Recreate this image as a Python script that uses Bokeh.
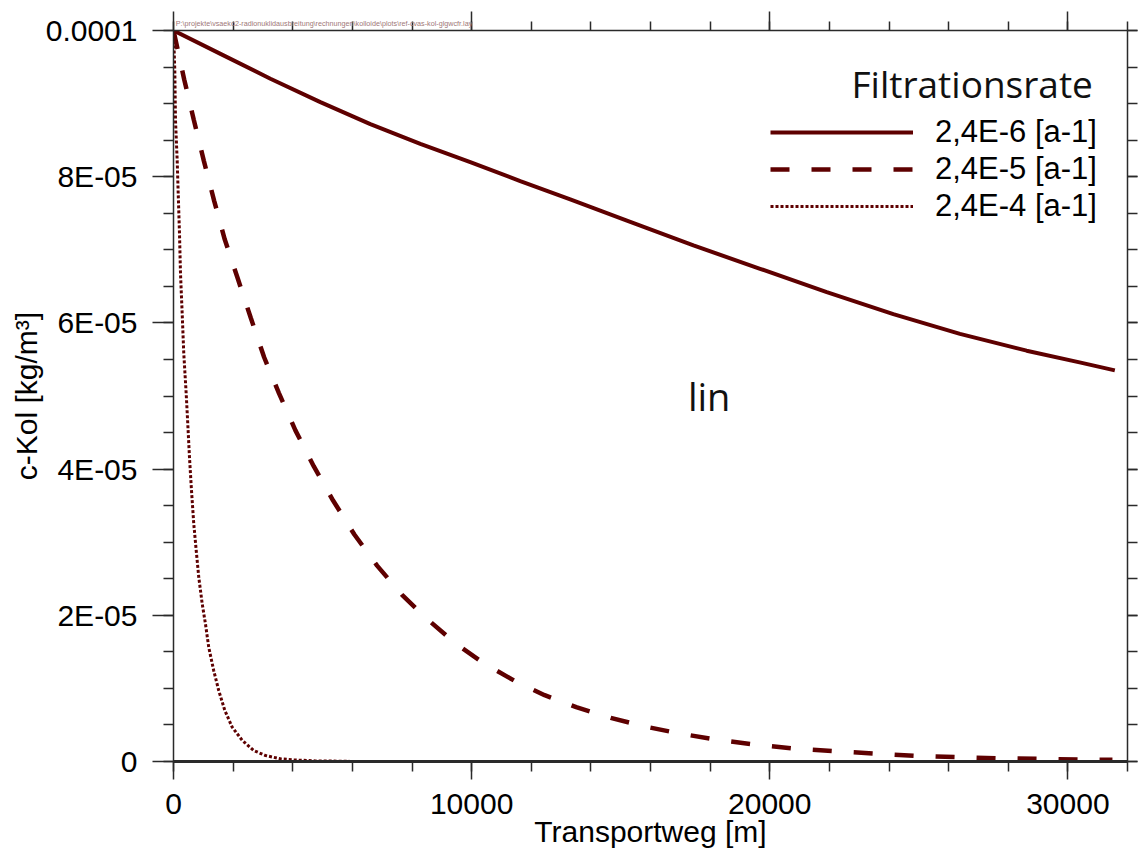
from bokeh.plotting import figure
from bokeh.models import (Range1d, FixedTicker, LinearAxis, Legend, LegendItem,
                          Label)
from bokeh.embed import file_html
from bokeh.resources import INLINE

# Filtrationsrate 2,4E-6 [a-1]  (solid)
x_slow = [0, 1575, 3251, 4927, 6603, 8280, 9955, 11631, 13308, 15208, 17440,
          19676, 21912, 24145, 26380, 28616, 30393, 31575]
c_slow = [100.0, 96.8, 93.4, 90.2, 87.2, 84.5, 82.0, 79.4, 76.9, 74.0, 70.6,
          67.4, 64.2, 61.2, 58.5, 56.2, 54.6, 53.5]

# Filtrationsrate 2,4E-5 [a-1]  (dashed)
x_mid = [0, 359, 680, 1016, 1364, 1720, 2145, 2591, 3040, 3536, 4089, 4703,
         5353, 6067, 6828, 7666, 8447, 9506, 10425, 11454, 12449, 13508,
         14665, 15805, 17022, 18255, 19582, 20849, 22163, 23521, 24869,
         26277, 27620, 28995, 30389, 31495]
c_mid = [100.0, 93.3, 87.8, 82.2, 76.7, 71.4, 66.2, 60.7, 55.3, 50.4, 45.3,
         40.4, 35.7, 31.05, 26.8, 22.8, 19.7, 16.0, 13.4, 11.0, 9.07, 7.43,
         5.97, 4.79, 3.79, 2.97, 2.28, 1.74, 1.41, 1.09, 0.78, 0.59, 0.45,
         0.37, 0.27, 0.23]

# Filtrationsrate 2,4E-4 [a-1]  (dotted)
x_fast = [0, 44, 67, 124, 158, 201, 235, 292, 345, 426, 479, 536, 603, 680,
          761, 848, 962, 1073, 1183, 1351, 1518, 1720, 1968, 2303, 2692, 3084,
          3587, 3979, 4760, 5900]
c_fast = [100.0, 94.5, 87.7, 82.2, 77.7, 72.2, 66.7, 61.2, 55.8, 50.3, 46.2,
          41.6, 37.1, 32.5, 28.9, 25.2, 21.6, 18.8, 15.6, 12.4, 9.7, 7.0, 4.7,
          2.9, 1.5, 0.82, 0.37, 0.23, 0.08, 0.03]

series_labels = ["2,4E-6 [a-1]", "2,4E-5 [a-1]", "2,4E-4 [a-1]"]

x_ticks = [0, 10000, 20000, 30000]
y_ticks = [0, 2e-5, 4e-5, 6e-5, 8e-5, 1e-4]
y_tick_labels = ["0", "2E-05", "4E-05", "6E-05", "8E-05", "0.0001"]

x_minor = [i * 2000 for i in range(17)]
y_minor = [i * 5e-6 for i in range(21)]

file_path = ("P:\\projekte\\vsaeko2-radionuklidausbreitung\\rechnungen"
             "\\kolloide\\plots\\ref-cvas-kol-glgwcfr.lay")

col = "#5e0000"
axcol = "#2a2a2a"
sans = "Liberation Sans"

def scale(vals):
    return [v * 1e-6 for v in vals]

p = figure(width=1140, height=850, output_backend="svg", toolbar_location=None,
           x_range=Range1d(0, 32000), y_range=Range1d(0, 1e-4),
           x_axis_location=None, y_axis_location=None,
           min_border_left=173, min_border_right=13, min_border_top=30,
           min_border_bottom=89)
p.outline_line_color = None
p.xgrid.visible = False
p.ygrid.visible = False

r1 = p.line(x_slow, scale(c_slow), line_color=col, line_width=4)
r2 = p.line(x_mid, scale(c_mid), line_color=col, line_width=4.5,
            line_dash="19 22")
r3 = p.line(x_fast, scale(c_fast), line_color=col, line_width=3,
            line_dash="3 2")

def style(ax, major_out, minor_out, labels=True):
    ax.axis_line_color = axcol
    ax.axis_line_width = 1.5
    ax.major_tick_line_color = axcol
    ax.minor_tick_line_color = axcol
    ax.major_tick_line_width = 1.5
    ax.minor_tick_line_width = 1.5
    ax.major_tick_in = 0
    ax.minor_tick_in = 0
    ax.major_tick_out = major_out
    ax.minor_tick_out = minor_out
    if labels:
        ax.major_label_text_font = sans
        ax.major_label_text_font_size = "30px"
        ax.major_label_text_color = "black"
    else:
        ax.major_label_text_font_size = "1px"
        ax.major_label_text_color = None
        ax.major_label_standoff = 0

xb = LinearAxis(ticker=FixedTicker(ticks=x_ticks, minor_ticks=x_minor),
                axis_label="Transportweg [m]")
style(xb, 18, 10)
xb.axis_line_width = 3
xb.major_label_standoff = 14
xb.axis_label_standoff = -2
xb.axis_label_text_font = sans
xb.axis_label_text_font_size = "30px"
xb.axis_label_text_font_style = "normal"
xb.axis_label_text_color = "black"
p.add_layout(xb, "below")

# top frame axis, carrying the layout file name (padded so it starts at the
# left edge of the frame)
xt = LinearAxis(ticker=FixedTicker(ticks=x_ticks, minor_ticks=x_minor),
                axis_label=file_path + "\u00a0" * 327)
style(xt, 19, 9, labels=False)
xt.axis_label_standoff = -16
xt.axis_label_text_font = sans
xt.axis_label_text_font_size = "7.2px"
xt.axis_label_text_font_style = "normal"
xt.axis_label_text_color = "#a07878"
p.add_layout(xt, "above")

yl = LinearAxis(ticker=FixedTicker(ticks=y_ticks, minor_ticks=y_minor),
                axis_label="c-Kol [kg/m³]")
style(yl, 21, 10)
yl.major_label_overrides = dict(zip(y_ticks, y_tick_labels))
yl.major_label_standoff = 15
yl.axis_label_standoff = 0
yl.axis_label_text_font = sans
yl.axis_label_text_font_size = "30px"
yl.axis_label_text_font_style = "normal"
yl.axis_label_text_color = "black"
p.add_layout(yl, "left")

yr = LinearAxis(ticker=FixedTicker(ticks=y_ticks, minor_ticks=y_minor))
style(yr, 10, 10, labels=False)
p.add_layout(yr, "right")

legend = Legend(items=[LegendItem(label=series_labels[0], renderers=[r1]),
                       LegendItem(label=series_labels[1], renderers=[r2]),
                       LegendItem(label=series_labels[2], renderers=[r3])],
                location=(597, 537), padding=0, margin=0, spacing=1,
                glyph_width=143, glyph_height=36, label_height=36,
                label_standoff=22, border_line_color=None,
                background_fill_alpha=0)
legend.label_text_font = sans
legend.label_text_font_size = "31px"
legend.label_text_color = "black"
p.add_layout(legend)

p.add_layout(Label(x=30838, y=92.7e-6, text="Filtrationsrate",
                   text_align="right", text_baseline="middle",
                   text_font="Open Sans", text_font_size="37px",
                   text_color="#111111"))
p.add_layout(Label(x=17967, y=50e-6, text="lin", text_align="center",
                   text_baseline="middle", text_font="Open Sans",
                   text_font_size="38px", text_color="#111111"))

open("out.html", "w").write(file_html(p, INLINE))
